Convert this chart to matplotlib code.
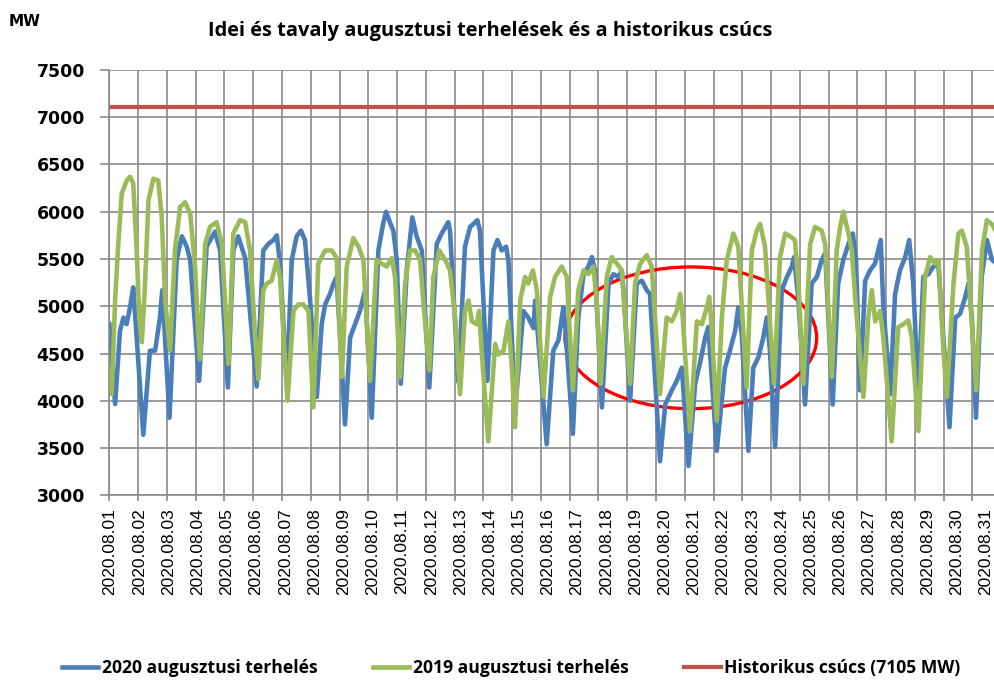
import numpy as np
import matplotlib.pyplot as plt
from matplotlib.patches import Ellipse

# time in days since 2020.08.01 00:00, load in MW
t2020 = [0.00, 0.20, 0.37, 0.49, 0.60, 0.72, 0.83, 1.18, 1.41, 1.59, 1.76, 1.84,
         2.09, 2.34, 2.52, 2.69, 2.81, 3.12, 3.38, 3.67, 3.85, 4.12, 4.31, 4.48,
         4.72, 5.12, 5.35, 5.53, 5.70, 5.82, 5.93, 6.17, 6.34, 6.51, 6.66, 6.80,
         6.98, 7.21, 7.38, 7.50, 7.67, 7.79, 7.90, 8.19, 8.37, 8.54, 8.71, 8.89,
         9.12, 9.35, 9.52, 9.62, 9.76, 9.87, 9.99, 10.13, 10.34, 10.53, 10.68,
         10.86, 11.12, 11.38, 11.55, 11.78, 11.84, 12.13, 12.36, 12.54, 12.79,
         12.88, 13.14, 13.35, 13.49, 13.64, 13.79, 13.87, 14.10, 14.39, 14.56,
         14.74, 14.80, 15.20, 15.43, 15.61, 15.78, 15.84, 16.11, 16.30, 16.48,
         16.65, 16.77, 16.88, 17.12, 17.35, 17.52, 17.69, 17.81, 17.87, 18.10,
         18.33, 18.51, 18.68, 18.79, 19.14, 19.32, 19.55, 19.72, 19.90, 20.13,
         20.36, 20.53, 20.71, 20.82, 21.11, 21.40, 21.57, 21.75, 21.86, 21.98,
         22.21, 22.38, 22.56, 22.73, 22.85, 22.96, 23.14, 23.37, 23.55, 23.72,
         23.80, 23.95, 24.18, 24.41, 24.59, 24.76, 24.88, 25.14, 25.33, 25.51,
         25.69, 25.84, 25.95, 26.09, 26.27, 26.44, 26.61, 26.81, 26.90, 27.14,
         27.31, 27.48, 27.66, 27.80, 27.94, 28.12, 28.29, 28.47, 28.64, 28.81,
         29.20, 29.40, 29.57, 29.75, 29.86, 29.98, 30.12, 30.32, 30.50, 30.68,
         30.85]
mw2020 = [4810, 3965, 4740, 4880, 4810, 4990, 5200, 3640, 4530, 4530, 4880, 5170,
          3820, 5490, 5740, 5630, 5490, 4210, 5630, 5790, 5590, 4140, 5590, 5740,
          5510, 4150, 5590, 5660, 5700, 5750, 5450, 4180, 5490, 5740, 5800, 5700,
          5060, 4040, 4810, 5020, 5130, 5240, 5310, 3750, 4670, 4810, 4950, 5170,
          3820, 5590, 5880, 6000, 5880, 5800, 5490, 4180, 5400, 5940, 5740,
          5590, 4140, 5660, 5770, 5890, 5800, 4200, 5630, 5840, 5910,
          5800, 4210, 5590, 5700, 5590, 5630, 5490, 3890, 4950, 4880,
          4770, 5060, 3540, 4530, 4640, 4990, 4810, 3650, 4880, 5340,
          5420, 5520, 5380, 3930, 5240, 5340, 5310, 5380, 5170, 4000,
          5240, 5270, 5170, 5130, 3360, 3960, 4110, 4210, 4350, 3310,
          4180, 4400, 4670, 4780, 3470, 4350, 4530, 4740, 4990, 4700,
          3470, 4350, 4460, 4670, 4880, 4530, 3510, 5170, 5310, 5420,
          5520, 5060, 3960, 5240, 5310, 5490, 5560, 3960, 5240, 5490,
          5660, 5770, 5500, 4110, 5270, 5380, 5450, 5700, 5000, 4070,
          5130, 5380, 5520, 5700, 5240, 4040, 5310, 5340, 5420, 5450,
          3720, 4880, 4920, 5100, 5240, 4880, 3820, 5310, 5700, 5490,
          5450]

t2019 = [0.00, 0.08, 0.20, 0.31, 0.43, 0.60, 0.72, 0.83, 0.95, 1.04, 1.13, 1.24,
         1.36, 1.53, 1.70, 1.82, 1.94, 2.11, 2.28, 2.46, 2.63, 2.81, 2.98, 3.09,
         3.15, 3.33, 3.50, 3.73, 3.91, 4.02, 4.14, 4.31, 4.54, 4.72, 4.89, 5.06,
         5.18, 5.35, 5.47, 5.64, 5.82, 5.93, 6.19, 6.40, 6.57, 6.74, 6.92, 7.09,
         7.26, 7.50, 7.73, 7.90, 8.08, 8.25, 8.48, 8.66, 8.83, 9.06, 9.29, 9.47,
         9.64, 9.82, 9.93, 10.10, 10.28, 10.45, 10.63, 10.80, 10.91, 11.12,
         11.26, 11.47, 11.67, 11.84, 12.02, 12.19, 12.36, 12.48, 12.60, 12.77,
         12.85, 12.94, 13.17, 13.41, 13.52, 13.70, 13.87, 13.99, 14.10, 14.28,
         14.45, 14.56, 14.72, 14.86, 15.09, 15.32, 15.49, 15.72, 15.90, 16.11,
         16.30, 16.48, 16.65, 16.82, 16.94, 17.08, 17.29, 17.46, 17.64, 17.81,
         18.10, 18.27, 18.45, 18.68, 18.85, 19.14, 19.37, 19.55, 19.72, 19.84,
         19.93, 20.18, 20.42, 20.59, 20.77, 20.85, 20.92, 21.11, 21.29, 21.46,
         21.69, 21.86, 22.15, 22.33, 22.50, 22.62, 22.79, 23.10, 23.31, 23.49,
         23.66, 23.83, 23.95, 24.12, 24.36, 24.53, 24.76, 24.88, 25.11, 25.28,
         25.40, 25.51, 25.69, 25.80, 25.93, 26.21, 26.38, 26.50, 26.62, 26.79,
         26.90, 27.19, 27.42, 27.60, 27.77, 27.89, 28.12, 28.35, 28.53, 28.70,
         28.82, 28.99, 29.11, 29.34, 29.51, 29.63, 29.80, 30.13, 30.33, 30.50,
         30.67, 30.85]
mw2019 = [4350, 4070, 5060, 5660, 6190, 6330, 6370, 6300, 5590, 4880, 4620, 5240,
          6120, 6350, 6330, 5950, 5060, 4530, 5590, 6050, 6100, 5980, 5420, 4710,
          4440, 5660, 5840, 5890, 5660, 5060, 4390, 5770, 5910, 5890, 5590, 4710,
          4230, 5170, 5240, 5270, 5490, 5310, 4000, 4950, 5020, 5020, 4950, 3930,
          5450, 5590, 5590, 5510, 4250, 5420, 5720, 5630, 5490, 4210, 5490, 5450,
          5420, 5510, 5310, 4250, 5240, 5590, 5590, 5490, 5060, 4320,
          5310, 5590, 5490, 5380, 4880, 4070, 4950, 5060, 4840, 4810,
          4950, 4530, 3570, 4600, 4490, 4530, 4840, 4350, 3720, 5060,
          5310, 5240, 5380, 5170, 4040, 5100, 5310, 5420, 5310, 4110,
          5170, 5380, 5340, 5420, 5060, 4180, 5310, 5520, 5450, 5380,
          4180, 5240, 5450, 5540, 5420, 4070, 4880, 4840, 4950, 5130,
          4880, 3680, 4840, 4810, 4990, 5100, 4850, 3790, 4880, 5490,
          5770, 5630, 4140, 5590, 5800, 5870, 5630, 4180, 5520, 5770,
          5740, 5700, 5240, 4180, 5660, 5840, 5800, 5660, 4250, 5590,
          5840, 6000, 5770, 5600, 5060, 4040, 4880, 5170, 4840, 4950,
          4670, 3570, 4780, 4810, 4850, 4670, 3680, 5310, 5520, 5450,
          5490, 4530, 4040, 5240, 5770, 5800, 5630, 4110, 5590, 5910,
          5870, 5770]

peak_mw = 7105
day_labels = [f"2020.08.{d:02d}" for d in range(1, 32)]
y_ticks = [3000, 3500, 4000, 4500, 5000, 5500, 6000, 6500, 7000, 7500]

BLUE = '#4a7ebb'
GREEN = '#9bbb59'
RED = '#c0504d'
GRID = '#8a8a8a'

fig = plt.figure(figsize=(9.95, 6.82), dpi=100)
ax = fig.add_axes([0.1099, 0.2738, 0.8964, 0.6236])

ax.plot(t2020, mw2020, color=BLUE, lw=3.3, solid_joinstyle='round',
        label='2020 augusztusi terhelés')
ax.plot(t2019, mw2019, color=GREEN, lw=3.3, solid_joinstyle='round',
        label='2019 augusztusi terhelés')
ax.axhline(peak_mw, color=RED, lw=3.0, label='Historikus csúcs (7105 MW)')

ax.add_patch(Ellipse((20.21, 4666), 8.75, 1500, fill=False, ec='#ff0000', lw=2.4))

ax.set_xlim(0, 31)
ax.set_ylim(3000, 7500)
ax.set_yticks(y_ticks)
ax.set_yticklabels([str(v) for v in y_ticks], fontsize=12.5, fontweight='bold',
                   family='DejaVu Sans')

# excel puts the date labels on a slightly wider step than the day ticks
label_step = 29.19 / 28.77
ax.set_xticks(np.arange(0, 32))
ax.set_xticklabels([])
ax.set_xticks([0.024 + i * label_step for i in range(31)], minor=True)
ax.set_xticklabels(day_labels, minor=True, rotation=90, fontsize=12.5,
                   family='Liberation Sans', va='top', ha='center')

ax.grid(which='major', color=GRID, lw=1.2)
ax.set_axisbelow(True)
ax.tick_params(axis='y', length=6.5, width=1.2, color=GRID, pad=11)
ax.tick_params(axis='x', which='major', length=4, width=1.2, color=GRID)
ax.tick_params(axis='x', which='minor', length=0, pad=9)
for s in ['top', 'right']:
    ax.spines[s].set_visible(False)
for s in ['left', 'bottom']:
    ax.spines[s].set_color(GRID)
    ax.spines[s].set_linewidth(1.2)

fig.text(490 / 995, 1 - 31 / 682, 'Idei és tavaly augusztusi terhelések és a historikus csúcs',
         ha='center', va='center', fontsize=14.4, fontweight='bold', family='Open Sans')
fig.text(9 / 995, 1 - 22 / 682, 'MW', ha='left', va='center', fontsize=11,
         fontweight='bold', family='DejaVu Sans')

handles, labels = ax.get_legend_handles_labels()
fig.legend(handles, labels, loc='center', bbox_to_anchor=(511 / 995, 14 / 682), ncol=3,
           frameon=False, prop={'family': 'Open Sans', 'weight': 'bold', 'size': 12.6},
           handlelength=2.1, handletextpad=0.2, columnspacing=3.15)

fig.savefig('out.png', dpi=100)
